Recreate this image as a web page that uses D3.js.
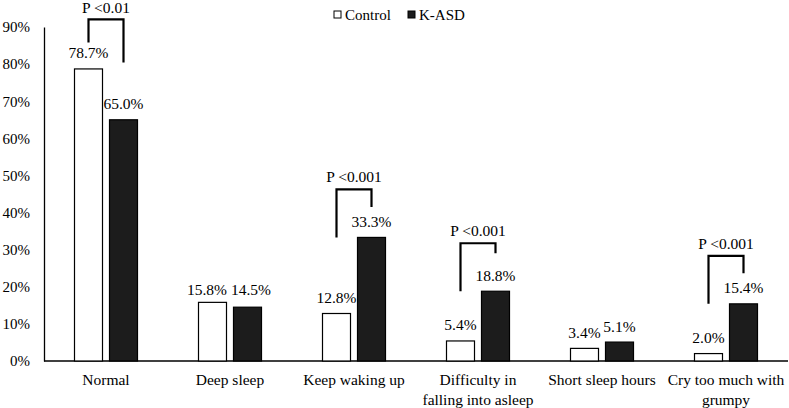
<!DOCTYPE html>
<html><head><meta charset="utf-8">
<script src="https://cdn.jsdelivr.net/npm/d3@7"></script>
</head>
<body style="margin:0">
<svg id="chart" width="789" height="408" font-family="Liberation Serif" style="font-family:'Liberation Serif'"></svg>
<script>
const categories = ["Normal","Deep sleep","Keep waking up","Difficulty in|falling into asleep","Short sleep hours","Cry too much with|grumpy"];
const seriesNames = ["Control","K-ASD"];
const controlValues = [78.7, 15.8, 12.8, 5.4, 3.4, 2.0];
const asdValues = [65.0, 14.5, 33.3, 18.8, 5.1, 15.4];
const yTicks = [0,10,20,30,40,50,60,70,80,90];
const pCategories = ["Normal","Keep waking up","Difficulty in|falling into asleep","Cry too much with|grumpy"];
const pLabels = ["P <0.01","P <0.001","P <0.001","P <0.001"];

// label nudges (layout only) to avoid overlap, keyed by category index
const labelNudge = {1: {"Control":[-5.5,2.8], "K-ASD":[3.5,-1.8]}};

function txt(sel, size){
  return sel.attr("font-family","Liberation Serif").style("font-family","'Liberation Serif'")
    .attr("font-size",size).style("font-size",size+"px");
}
const svg = d3.select("#chart");
const y = d3.scaleLinear().domain([0,90]).range([361,27]);
const x = d3.scaleBand().domain(categories).range([44,788]);
const xi = d3.scaleBand().domain(seriesNames).range([0,63]).paddingInner(0.2);
const groupOff = (x.bandwidth()-63)/2;
const fills = {"Control":"#ffffff","K-ASD":"#1c1c1c"};

// y axis
const yAxis = svg.append("g").attr("transform","translate(44,0)")
  .call(d3.axisLeft(y).tickValues(yTicks).tickSize(0).tickPadding(14).tickFormat(d=>d+"%"));
yAxis.attr("font-family","Liberation Serif").attr("font-size",15);
yAxis.select(".domain").attr("stroke","#000").attr("stroke-width",1.3);
txt(yAxis.selectAll("text"),15).attr("fill","#000");

// baseline
svg.append("line").attr("x1",44).attr("x2",788).attr("y1",y(0)).attr("y2",y(0))
  .attr("stroke","#000").attr("stroke-width",1.3);

const rows = categories.map((c,i)=>({cat:c, i, vals:[{s:"Control",v:controlValues[i],i},{s:"K-ASD",v:asdValues[i],i}]}));
const g = svg.selectAll("g.grp").data(rows).join("g").attr("class","grp")
  .attr("transform",d=>`translate(${x(d.cat)+groupOff},0)`);
g.selectAll("rect").data(d=>d.vals).join("rect")
  .attr("x",d=>xi(d.s)).attr("width",xi.bandwidth())
  .attr("y",d=>y(d.v)).attr("height",d=>y(0)-y(d.v))
  .attr("fill",d=>fills[d.s]).attr("stroke","#000").attr("stroke-width",1.2);
const nud = d => (labelNudge[d.i] && labelNudge[d.i][d.s]) || [0,0];
txt(g.selectAll("text.val").data(d=>d.vals).join("text").attr("class","val")
  .attr("x",d=>xi(d.s)+xi.bandwidth()/2+nud(d)[0]).attr("y",d=>y(d.v)-10.5+nud(d)[1])
  .attr("text-anchor","middle"),15.5)
  .text(d=>d.v.toFixed(1)+"%");

// category labels
categories.forEach(c=>{
  const lines = c.split("|");
  const t = txt(svg.append("text").attr("x",x(c)+x.bandwidth()/2).attr("y",385)
    .attr("text-anchor","middle"),15.5);
  lines.forEach((l,j)=>t.append("tspan").attr("x",x(c)+x.bandwidth()/2).attr("dy",j?19.5:0).text(l));
});

// significance brackets
pCategories.forEach((c,k)=>{
  const i = categories.indexOf(c);
  const cx = x(c)+groupOff;
  const xl = cx + xi("Control")+xi.bandwidth()/2;
  const xr = cx + xi("K-ASD")+xi.bandwidth()/2;
  let top, lb, rb, ty;
  if (controlValues[i] > asdValues[i]) {
    top = y(controlValues[i]) - 49.5;
    lb = top + 23;
    rb = top + 43;
    ty = top - 6;
  } else {
    top = y(asdValues[i]) - 48;
    lb = y(asdValues[i]);
    rb = top + (k===2 ? 10 : 17.5);
    ty = top - 7;
  }
  svg.append("path").attr("d",`M${xl},${lb}V${top}H${xr}V${rb}`)
    .attr("fill","none").attr("stroke","#000").attr("stroke-width",2.2);
  txt(svg.append("text").attr("x",(xl+xr)/2).attr("y",ty).attr("text-anchor","middle"),15.5).text(pLabels[k]);
});

// legend
const legX = [334,408];
seriesNames.forEach((s,i)=>{
  svg.append("rect").attr("x",legX[i]).attr("y",11).attr("width",7).attr("height",7)
    .attr("fill",fills[s]).attr("stroke","#000").attr("stroke-width",1);
  txt(svg.append("text").attr("x",legX[i]+11).attr("y",19.5),15).text(s);
});
</script>
</body></html>
